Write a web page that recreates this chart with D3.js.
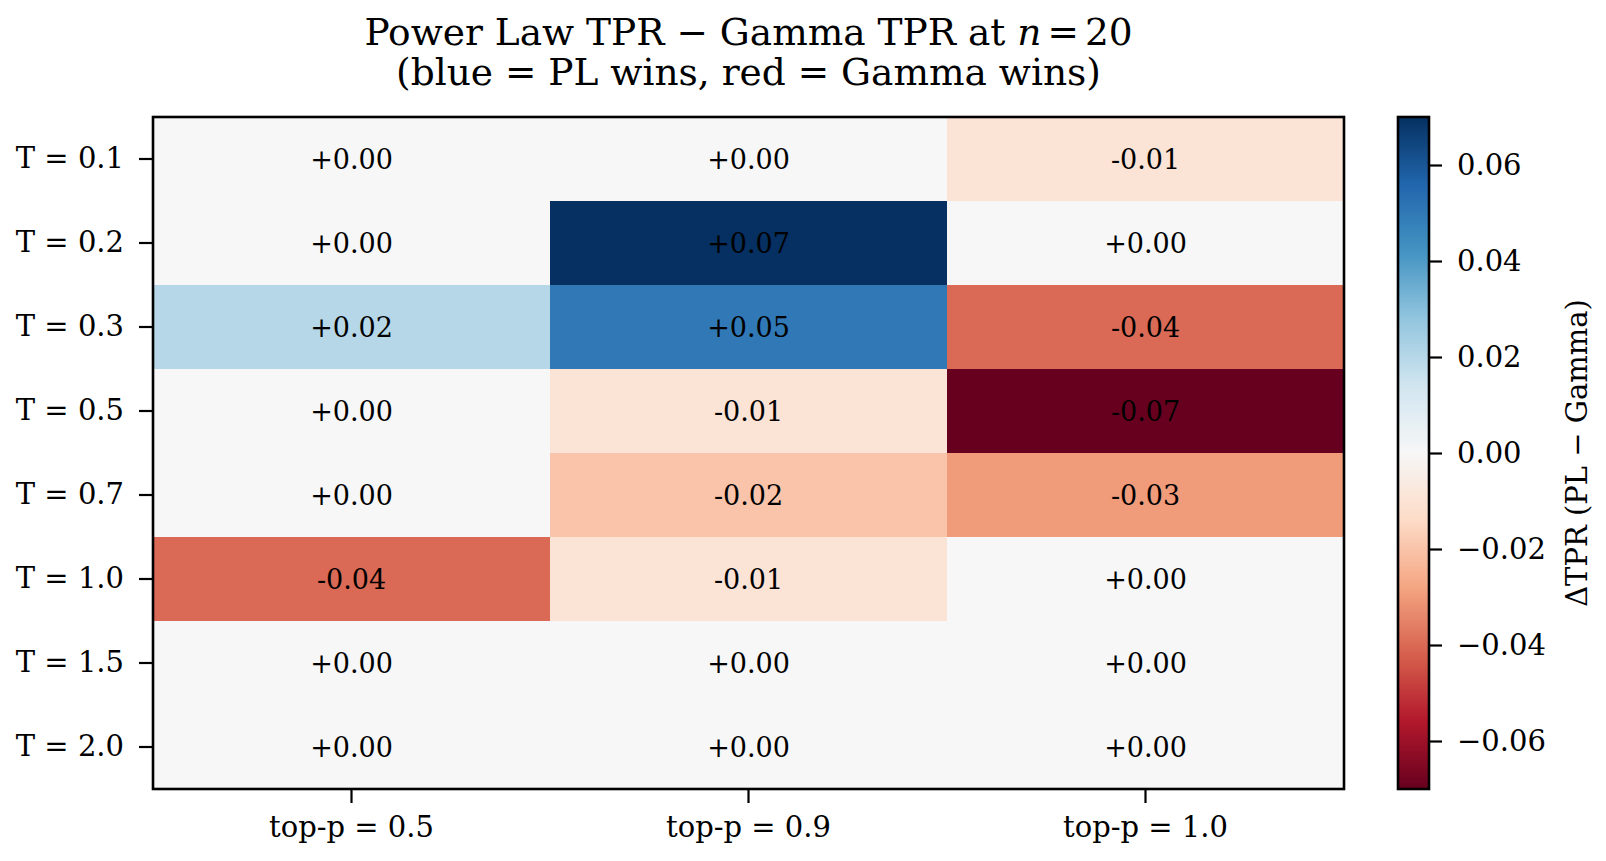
<!DOCTYPE html>
<html>
<head>
<meta charset="utf-8">
<script src="https://cdn.jsdelivr.net/npm/d3@7"></script>
<style>
  html, body { margin: 0; padding: 0; background: #fff; }
  svg { display: block; font-family: "DejaVu Serif", serif; }
</style>
</head>
<body>
<svg id="chart" width="1606" height="861"></svg>
<script>
// ---- data ----
const rowLabels = ["T = 0.1", "T = 0.2", "T = 0.3", "T = 0.5", "T = 0.7", "T = 1.0", "T = 1.5", "T = 2.0"];
const colLabels = ["top-p = 0.5", "top-p = 0.9", "top-p = 1.0"];
// ΔTPR per column (top-p), rows in order of rowLabels
const topP05 = [0.00, 0.00, 0.02, 0.00, 0.00, -0.04, 0.00, 0.00];
const topP09 = [0.00, 0.07, 0.05, -0.01, -0.02, -0.01, 0.00, 0.00];
const topP10 = [-0.01, 0.00, -0.04, -0.07, -0.03, 0.00, 0.00, 0.00];
const colorbarTicks = [-0.06, -0.04, -0.02, 0.00, 0.02, 0.04, 0.06];
const vLimit = 0.07;
const rdbu = ["#67001f","#b2182b","#d6604d","#f4a582","#fddbc7","#f7f7f7","#d1e5f0","#92c5de","#4393c3","#2166ac","#053061"];

const columns = [topP05, topP09, topP10];
const cells = [];
columns.forEach((col, ci) => col.forEach((v, ri) => cells.push({row: rowLabels[ri], col: colLabels[ci], v})));

// ---- layout ----
const svg = d3.select("#chart");
const plot = {left: 153, right: 1344, top: 117, bottom: 789};
const cb = {left: 1398, right: 1429};

const x = d3.scaleBand().domain(colLabels).range([plot.left, plot.right]);
const y = d3.scaleBand().domain(rowLabels).range([plot.top, plot.bottom]);
const color = d3.scaleLinear()
  .domain(d3.range(rdbu.length).map(i => -vLimit + i * (2 * vLimit) / (rdbu.length - 1)))
  .range(rdbu).interpolate(d3.interpolateRgb).clamp(true);

// cells
svg.append("g").selectAll("rect").data(cells).join("rect")
  .attr("x", d => x(d.col)).attr("y", d => y(d.row))
  .attr("width", x.bandwidth() + 0.5).attr("height", y.bandwidth() + 0.5)
  .attr("fill", d => color(d.v));

const fmtCell = v => (v < 0 ? "-" : "+") + Math.abs(v).toFixed(2);
svg.append("g").selectAll("text").data(cells).join("text")
  .attr("x", d => x(d.col) + x.bandwidth() / 2)
  .attr("y", d => y(d.row) + y.bandwidth() / 2)
  .attr("text-anchor", "middle").attr("dominant-baseline", "central")
  .attr("font-size", 27).attr("fill", "#000")
  .text(d => fmtCell(d.v));

// axes
const axisFont = 29;
const gx = svg.append("g").attr("transform", `translate(0,${plot.bottom})`)
  .call(d3.axisBottom(x).tickSize(14).tickPadding(13));
gx.select(".domain").remove();
gx.selectAll("line").attr("stroke", "#000").attr("stroke-width", 2.2);
gx.selectAll("text").attr("font-size", axisFont).attr("font-family", "DejaVu Serif").attr("fill", "#000");

const gy = svg.append("g").attr("transform", `translate(${plot.left},0)`)
  .call(d3.axisLeft(y).tickSize(14).tickPadding(15));
gy.select(".domain").remove();
gy.selectAll("line").attr("stroke", "#000").attr("stroke-width", 2.2);
gy.selectAll("text").attr("font-size", axisFont).attr("font-family", "DejaVu Serif").attr("fill", "#000");

svg.append("rect").attr("x", plot.left).attr("y", plot.top)
  .attr("width", plot.right - plot.left).attr("height", plot.bottom - plot.top)
  .attr("fill", "none").attr("stroke", "#000").attr("stroke-width", 2.6);

// colorbar
const cbScale = d3.scaleLinear().domain([-vLimit, vLimit]).range([plot.bottom, plot.top]);
const defs = svg.append("defs");
const grad = defs.append("linearGradient").attr("id", "cbgrad")
  .attr("x1", 0).attr("y1", 1).attr("x2", 0).attr("y2", 0);
d3.range(0, 1.0001, 0.02).forEach(t => {
  grad.append("stop").attr("offset", t).attr("stop-color", color(-vLimit + t * 2 * vLimit));
});
svg.append("rect").attr("x", cb.left).attr("y", plot.top)
  .attr("width", cb.right - cb.left).attr("height", plot.bottom - plot.top)
  .attr("fill", "url(#cbgrad)");
const gc = svg.append("g").attr("transform", `translate(${cb.right},0)`)
  .call(d3.axisRight(cbScale).tickValues(colorbarTicks).tickFormat(d3.format(".2f")).tickSize(13).tickPadding(15));
gc.select(".domain").remove();
gc.selectAll("line").attr("stroke", "#000").attr("stroke-width", 2.2);
gc.selectAll("text").attr("font-size", axisFont).attr("font-family", "DejaVu Serif").attr("fill", "#000");
svg.append("rect").attr("x", cb.left).attr("y", plot.top)
  .attr("width", cb.right - cb.left).attr("height", plot.bottom - plot.top)
  .attr("fill", "none").attr("stroke", "#000").attr("stroke-width", 2.6);

svg.append("text")
  .attr("transform", `translate(1587,${(plot.top + plot.bottom) / 2}) rotate(-90)`)
  .attr("text-anchor", "middle").attr("font-size", axisFont).attr("fill", "#000")
  .text("ΔTPR (PL − Gamma)");

// title
const cx = (plot.left + plot.right) / 2;
const t1 = svg.append("text").attr("x", cx).attr("y", 45).attr("text-anchor", "middle")
  .attr("font-size", 37.5).attr("fill", "#000");
t1.append("tspan").text("Power Law TPR − Gamma TPR at ");
t1.append("tspan").attr("font-style", "italic").text("n");
t1.append("tspan").attr("dx", 6).text("=");
t1.append("tspan").attr("dx", 6).text("20");
svg.append("text").attr("x", cx).attr("y", 85).attr("text-anchor", "middle")
  .attr("font-size", 37.5).attr("fill", "#000")
  .text("(blue = PL wins, red = Gamma wins)");
</script>
</body>
</html>
